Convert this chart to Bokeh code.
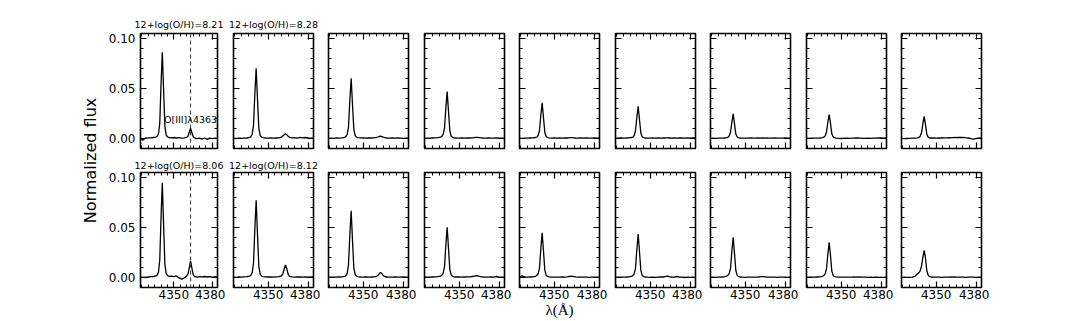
import math
from bokeh.plotting import figure
from bokeh.layouts import row, column
from bokeh.models import Range1d, FixedTicker, LinearAxis, Label, Span, NumeralTickFormatter
from bokeh.embed import file_html
from bokeh.resources import INLINE

# ---------------- data ----------------
wavelength = [4324, 4326, 4328, 4330, 4332, 4334, 4336, 4337, 4338, 4339,
              4340, 4341, 4342, 4343, 4344, 4345, 4346, 4348, 4350, 4352,
              4354, 4356, 4358, 4360, 4361, 4362, 4363, 4364, 4365, 4366,
              4368, 4370, 4372, 4374, 4376, 4378, 4380, 4382, 4384]

top_titles = ["12+log(O/H)=8.21", "12+log(O/H)=8.28"]
bottom_titles = ["12+log(O/H)=8.06", "12+log(O/H)=8.12"]
oiii_label = "O[III]\u03bb4363"
oiii_wave = 4363
oiii_label_flux = 0.0187

top_1 = [0.0000, -0.0018, 0.0002, 0.0005, 0.0004, 0.0008, 0.0012, 0.0020, 0.0045, 0.0150,
         0.0540, 0.0860, 0.0480, 0.0120, 0.0035, 0.0015, 0.0008, 0.0005, 0.0008, 0.0003,
         0.0006, 0.0002, 0.0004, 0.0010, 0.0020, 0.0060, 0.0100, 0.0058, 0.0018, 0.0004,
         -0.0004, 0.0002, -0.0008, 0.0003, -0.0010, 0.0002, -0.0003, 0.0001, 0.0000]
top_2 = [0.0000, -0.0002, 0.0001, -0.0001, 0.0002, 0.0003, 0.0008, 0.0015, 0.0040, 0.0130,
         0.0440, 0.0700, 0.0390, 0.0100, 0.0030, 0.0012, 0.0006, 0.0003, 0.0002, 0.0004,
         0.0001, 0.0003, 0.0005, 0.0012, 0.0022, 0.0036, 0.0045, 0.0036, 0.0020, 0.0010,
         0.0004, 0.0006, 0.0002, 0.0010, 0.0004, 0.0008, 0.0003, 0.0002, 0.0001]
top_3 = [0.0000, 0.0002, -0.0001, 0.0003, 0.0002, 0.0005, 0.0010, 0.0016, 0.0038, 0.0115,
         0.0380, 0.0600, 0.0335, 0.0090, 0.0028, 0.0012, 0.0006, 0.0004, 0.0003, 0.0002,
         0.0004, 0.0003, 0.0005, 0.0009, 0.0013, 0.0018, 0.0021, 0.0017, 0.0011, 0.0006,
         0.0003, 0.0002, 0.0004, 0.0001, 0.0003, 0.0002, 0.0000, 0.0002, 0.0001]
top_4 = [0.0000, 0.0002, 0.0001, 0.0003, 0.0004, 0.0006, 0.0012, 0.0020, 0.0040, 0.0100,
         0.0300, 0.0467, 0.0270, 0.0075, 0.0022, 0.0010, 0.0005, 0.0003, 0.0002, 0.0003,
         0.0002, 0.0004, 0.0003, 0.0005, 0.0007, 0.0009, 0.0010, 0.0009, 0.0007, 0.0005,
         0.0003, 0.0002, 0.0003, 0.0001, 0.0002, 0.0003, 0.0001, 0.0002, 0.0001]
top_5 = [0.0001, 0.0000, 0.0002, 0.0001, 0.0003, 0.0004, 0.0008, 0.0013, 0.0030, 0.0080,
         0.0230, 0.0355, 0.0205, 0.0058, 0.0018, 0.0008, 0.0004, 0.0002, 0.0003, 0.0001,
         0.0003, 0.0002, 0.0004, 0.0003, 0.0005, 0.0006, 0.0007, 0.0006, 0.0004, 0.0003,
         0.0002, 0.0004, 0.0002, 0.0003, 0.0001, 0.0002, 0.0003, 0.0001, 0.0002]
top_6 = [0.0002, 0.0001, 0.0003, 0.0002, 0.0003, 0.0005, 0.0008, 0.0012, 0.0028, 0.0075,
         0.0210, 0.0320, 0.0185, 0.0052, 0.0016, 0.0007, 0.0003, 0.0002, 0.0001, 0.0003,
         0.0002, 0.0003, 0.0002, 0.0004, 0.0003, 0.0005, 0.0004, 0.0003, 0.0004, 0.0002,
         0.0003, 0.0002, 0.0003, 0.0004, 0.0002, 0.0003, 0.0002, 0.0004, 0.0003]
top_7 = [0.0000, 0.0001, 0.0000, 0.0002, 0.0001, 0.0003, 0.0006, 0.0010, 0.0022, 0.0058,
         0.0160, 0.0245, 0.0145, 0.0042, 0.0013, 0.0006, 0.0003, 0.0001, 0.0002, 0.0001,
         0.0003, 0.0002, 0.0001, 0.0003, 0.0002, 0.0003, 0.0004, 0.0003, 0.0002, 0.0003,
         0.0001, 0.0002, 0.0003, 0.0002, 0.0001, 0.0002, 0.0003, 0.0002, 0.0001]
top_8 = [0.0001, 0.0000, 0.0002, 0.0001, 0.0002, 0.0003, 0.0006, 0.0011, 0.0024, 0.0062,
         0.0160, 0.0238, 0.0150, 0.0045, 0.0014, 0.0006, 0.0002, 0.0000, -0.0002, -0.0001,
         0.0001, 0.0000, 0.0001, 0.0002, 0.0003, 0.0003, 0.0004, 0.0002, 0.0001, 0.0000,
         -0.0001, 0.0001, 0.0000, 0.0002, 0.0001, 0.0003, 0.0004, 0.0002, 0.0003]
top_9 = [0.0000, -0.0004, -0.0002, 0.0000, 0.0002, 0.0002, 0.0005, 0.0009, 0.0020, 0.0055,
         0.0145, 0.0220, 0.0135, 0.0040, 0.0012, 0.0005, 0.0003, 0.0004, 0.0002, 0.0004,
         0.0003, 0.0005, 0.0004, 0.0006, 0.0005, 0.0007, 0.0006, 0.0008, 0.0007, 0.0009,
         0.0008, 0.0010, 0.0006, 0.0003, -0.0004, -0.0008, -0.0002, 0.0001, 0.0003]

bottom_1 = [0.0000, 0.0002, -0.0002, 0.0003, 0.0006, 0.0008, 0.0014, 0.0022, 0.0050, 0.0170,
            0.0600, 0.0945, 0.0520, 0.0130, 0.0040, 0.0018, 0.0010, 0.0012, 0.0006, 0.0014,
            -0.0006, -0.0018, -0.0008, 0.0012, 0.0035, 0.0095, 0.0165, 0.0095, 0.0030, 0.0008,
            0.0002, 0.0006, 0.0004, 0.0008, 0.0003, 0.0006, 0.0002, 0.0004, 0.0003]
bottom_2 = [0.0002, 0.0000, 0.0003, 0.0001, 0.0004, 0.0006, 0.0012, 0.0020, 0.0045, 0.0140,
            0.0480, 0.0770, 0.0430, 0.0110, 0.0032, 0.0013, 0.0006, 0.0004, 0.0003, 0.0005,
            0.0002, 0.0004, 0.0006, 0.0015, 0.0035, 0.0080, 0.0123, 0.0085, 0.0030, 0.0010,
            0.0004, 0.0002, 0.0004, 0.0003, 0.0001, 0.0003, 0.0002, 0.0004, 0.0002]
bottom_3 = [0.0000, 0.0001, 0.0002, 0.0001, 0.0003, 0.0005, 0.0010, 0.0017, 0.0040, 0.0125,
            0.0420, 0.0665, 0.0370, 0.0095, 0.0028, 0.0012, 0.0006, 0.0003, 0.0002, 0.0004,
            0.0002, 0.0003, 0.0005, 0.0010, 0.0018, 0.0035, 0.0048, 0.0038, 0.0018, 0.0008,
            0.0003, 0.0002, 0.0001, 0.0003, 0.0002, 0.0001, 0.0003, 0.0002, 0.0001]
bottom_4 = [0.0001, 0.0002, 0.0001, 0.0003, 0.0004, 0.0006, 0.0012, 0.0020, 0.0040, 0.0105,
            0.0320, 0.0500, 0.0290, 0.0080, 0.0024, 0.0010, 0.0005, 0.0003, 0.0004, 0.0002,
            0.0003, 0.0004, 0.0005, 0.0008, 0.0011, 0.0014, 0.0016, 0.0014, 0.0010, 0.0006,
            0.0003, 0.0002, 0.0001, 0.0003, 0.0002, 0.0008, 0.0002, 0.0001, 0.0002]
bottom_5 = [0.0003, 0.0015, 0.0002, 0.0001, 0.0003, 0.0005, 0.0010, 0.0018, 0.0036, 0.0095,
            0.0285, 0.0445, 0.0260, 0.0070, 0.0021, 0.0009, 0.0004, 0.0002, 0.0001, 0.0002,
            0.0001, 0.0003, 0.0002, 0.0005, 0.0008, 0.0010, 0.0012, 0.0010, 0.0007, 0.0004,
            0.0002, 0.0001, 0.0002, 0.0001, 0.0000, 0.0001, 0.0002, 0.0001, 0.0000]
bottom_6 = [0.0001, 0.0002, 0.0001, 0.0002, 0.0003, 0.0005, 0.0010, 0.0017, 0.0035, 0.0092,
            0.0275, 0.0433, 0.0255, 0.0070, 0.0020, 0.0008, 0.0003, 0.0001, 0.0000, 0.0001,
            0.0000, 0.0002, 0.0004, 0.0003, 0.0006, 0.0009, 0.0011, 0.0008, 0.0004, 0.0003,
            0.0002, 0.0008, 0.0001, 0.0002, -0.0002, 0.0001, 0.0000, 0.0001, 0.0000]
bottom_7 = [0.0000, 0.0001, 0.0000, 0.0002, 0.0003, 0.0005, 0.0012, 0.0020, 0.0036, 0.0088,
            0.0255, 0.0400, 0.0240, 0.0068, 0.0020, 0.0008, 0.0003, 0.0001, 0.0000, 0.0001,
            0.0002, 0.0001, 0.0002, 0.0003, 0.0005, 0.0006, 0.0007, 0.0006, 0.0004, 0.0002,
            0.0001, 0.0002, 0.0001, 0.0000, 0.0001, 0.0002, 0.0001, 0.0000, 0.0001]
bottom_8 = [0.0000, 0.0001, 0.0002, 0.0001, 0.0003, 0.0005, 0.0010, 0.0018, 0.0035, 0.0085,
            0.0230, 0.0350, 0.0215, 0.0062, 0.0019, 0.0008, 0.0004, 0.0002, 0.0001, 0.0002,
            0.0001, 0.0002, 0.0001, 0.0003, 0.0002, 0.0003, 0.0002, 0.0003, 0.0001, 0.0002,
            0.0001, 0.0000, 0.0001, 0.0000, 0.0001, 0.0000, -0.0001, 0.0000, 0.0001]
bottom_9 = [0.0000, 0.0001, -0.0001, 0.0000, 0.0002, 0.0010, 0.0035, 0.0045, 0.0065, 0.0110,
            0.0200, 0.0270, 0.0190, 0.0065, 0.0020, 0.0008, 0.0003, 0.0001, 0.0002, 0.0001,
            0.0000, 0.0001, 0.0002, 0.0001, 0.0003, 0.0002, 0.0004, 0.0003, 0.0002, 0.0001,
            0.0002, 0.0001, 0.0000, 0.0001, 0.0002, 0.0001, 0.0000, 0.0001, 0.0000]

top_row = [top_1, top_2, top_3, top_4, top_5, top_6, top_7, top_8, top_9]
bottom_row = [bottom_1, bottom_2, bottom_3, bottom_4, bottom_5, bottom_6, bottom_7, bottom_8, bottom_9]

x_major = [4350, 4380]
x_minor = [4325, 4330, 4335, 4340, 4345, 4355, 4360, 4365, 4370, 4375, 4385]
y_major = [0.0, 0.05, 0.10]
y_minor = [-0.01, 0.01, 0.02, 0.03, 0.04, 0.06, 0.07, 0.08, 0.09, 0.11]
x_limits = (4324, 4384)
y_limits = (-0.0102, 0.1048)
x_title = "\u03bb(\u00c5)"
y_title = "Normalized flux"

# ---------------- layout / style ----------------
FW, FH = 80, 115
FONT = "DejaVu Sans"


def style_axis(ax, show_labels, standoff):
    ax.axis_line_color = None
    ax.major_tick_in = 6
    ax.major_tick_out = 0
    ax.minor_tick_in = 3
    ax.minor_tick_out = 0
    ax.major_tick_line_color = "black"
    ax.minor_tick_line_color = "black"
    ax.major_tick_line_width = 1.2
    ax.minor_tick_line_width = 1.0
    if show_labels:
        ax.major_label_text_font = FONT
        ax.major_label_text_font_size = "12px"
        ax.major_label_text_color = "black"
        ax.major_label_standoff = standoff
    else:
        ax.major_label_text_font_size = "1px"
        ax.major_label_text_color = None
        ax.major_label_standoff = 0


def make_panel(flux, r, c):
    lb = 32 if c == 0 else 8
    rb = 8 if c % 2 == 0 else 7
    tb = 33 if r == 0 else 17
    bb = 7 if r == 0 else 33
    titles = top_titles if r == 0 else bottom_titles
    p = figure(width=lb + FW + rb, height=tb + FH + bb,
               x_range=Range1d(*x_limits), y_range=Range1d(*y_limits),
               toolbar_location=None, output_backend="svg",
               x_axis_location=None, y_axis_location=None,
               min_border_left=lb, min_border_right=rb,
               min_border_top=tb, min_border_bottom=bb)
    p.grid.visible = False
    p.outline_line_color = "black"
    p.outline_line_width = 1.6
    p.background_fill_color = "white"
    p.border_fill_color = "white"

    for loc in ("below", "above"):
        ax = LinearAxis(ticker=FixedTicker(ticks=x_major, minor_ticks=x_minor))
        style_axis(ax, loc == "below" and r == 1, 2)
        if loc == "below" and r == 1 and c == 4:
            ax.axis_label = x_title
            ax.axis_label_text_font = "Liberation Serif"
            ax.axis_label_text_font_size = "15px"
            ax.axis_label_text_font_style = "normal"
            ax.axis_label_text_color = "black"
            ax.axis_label_standoff = 0
        if loc == "above" and c < len(titles):
            ax.axis_label = titles[c]
            ax.axis_label_text_font = FONT
            ax.axis_label_text_font_size = "9.5px"
            ax.axis_label_text_font_style = "normal"
            ax.axis_label_text_color = "black"
            ax.axis_label_standoff = 4 if r == 0 else 2
        p.add_layout(ax, loc)
    for loc in ("left", "right"):
        ax = LinearAxis(ticker=FixedTicker(ticks=y_major, minor_ticks=y_minor),
                        formatter=NumeralTickFormatter(format="0.00"))
        style_axis(ax, loc == "left" and c == 0, 5)
        p.add_layout(ax, loc)

    if c == 0:
        p.add_layout(Span(location=oiii_wave, dimension="height", line_color="#444444",
                          line_width=1.1, line_dash="4 3"))
    p.line(wavelength, flux, line_color="black", line_width=1.3)

    if c == 0 and r == 0:
        p.add_layout(Label(x=oiii_wave, y=oiii_label_flux, text=oiii_label,
                           text_align="center", text_baseline="middle",
                           text_font=FONT, text_font_size="9.5px", text_color="black"))
    return p


top_figs = [make_panel(f, 0, i) for i, f in enumerate(top_row)]
bottom_figs = [make_panel(f, 1, i) for i, f in enumerate(bottom_row)]

lf = figure(width=105, height=320, x_range=Range1d(0, 1), y_range=Range1d(0, 1),
            toolbar_location=None, output_backend="svg",
            x_axis_location=None, y_axis_location=None, min_border=0)
lf.grid.visible = False
lf.outline_line_color = None
lf.add_layout(Label(x=90, y=160, x_units="screen", y_units="screen", text=y_title,
                    angle=math.pi / 2, text_align="center", text_baseline="middle",
                    text_font=FONT, text_font_size="16px", text_color="black"))

root = row(lf, column(row(*top_figs), row(*bottom_figs)))

with open("out.html", "w") as fh:
    fh.write(file_html(root, INLINE))
